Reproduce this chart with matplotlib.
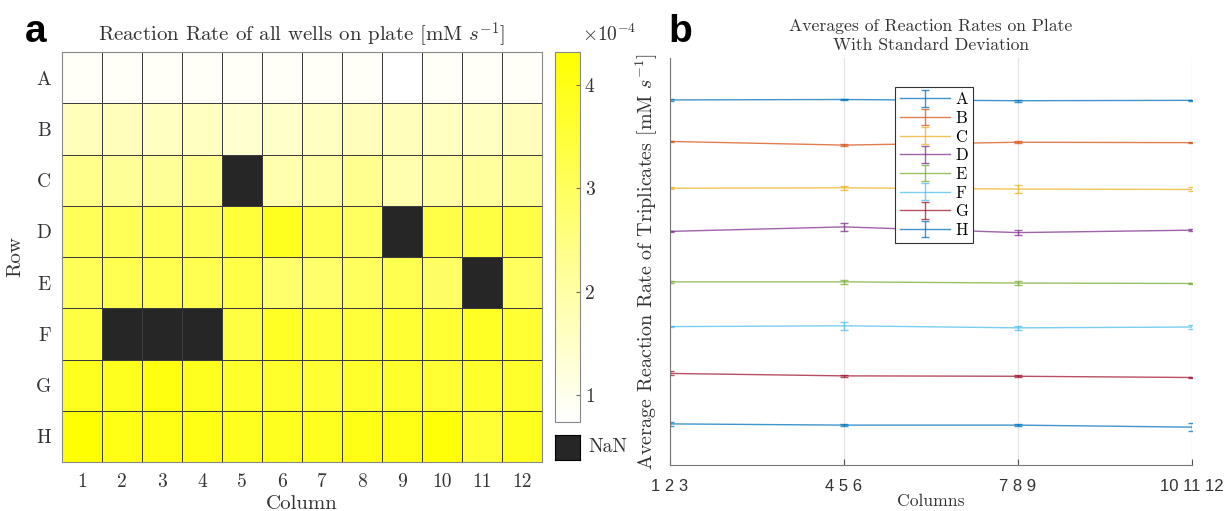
import numpy as np
import matplotlib
matplotlib.use('Agg')
from matplotlib import pyplot as plt
from matplotlib.colors import LinearSegmentedColormap

plt.rcParams['font.family'] = 'serif'
plt.rcParams['font.serif'] = ['cmr10']
plt.rcParams['mathtext.fontset'] = 'cm'
plt.rcParams['axes.unicode_minus'] = False

rows = ['A', 'B', 'C', 'D', 'E', 'F', 'G', 'H']
cols = [1, 2, 3, 4, 5, 6, 7, 8, 9, 10, 11, 12]

# reaction rate per well, in units of 1e-4 mM/s (nan = missing well)
nan = np.nan
rate_A = [0.85, 0.85, 0.84, 0.85, 0.84, 0.85, 0.84, 0.84, 0.74, 0.84, 0.85, 0.84]
rate_B = [1.7, 1.7, 1.6, 1.6, 1.4, 1.5, 1.6, 1.7, 1.7, 1.6, 1.6, 1.7]
rate_C = [2.4, 2.2, 2.2, 2.3, nan, 1.9, 2.0, 2.3, 1.9, 2.0, 2.1, 2.2]
rate_D = [3.1, 3.1, 3.1, 3.1, 3.5, 3.9, 3.2, 3.0, nan, 3.3, 3.4, 3.3]
rate_E = [3.1, 3.2, 3.2, 3.2, 3.3, 2.8, 2.8, 3.0, 3.2, 2.9, nan, 3.0]
rate_F = [3.4, nan, nan, nan, 3.4, 3.8, 3.5, 3.5, 3.6, 3.6, 3.8, 3.6]
rate_G = [3.9, 3.9, 4.1, 3.9, 3.7, 3.7, 3.6, 3.7, 3.7, 3.6, 3.7, 3.7]
rate_H = [4.3, 4.0, 4.0, 4.0, 3.9, 3.9, 3.9, 4.0, 4.0, 4.2, 3.6, 3.9]
clim = (0.74, 4.32)

# averages of triplicates (arbitrary scale) and std devs
avg_x = [2, 5, 8, 11]
avg_tick_labels = ['1 2 3', '4 5 6', '7 8 9', '10 11 12']
avg_A = [8.97, 8.98, 8.95, 8.96]
avg_B = [7.95, 7.86, 7.93, 7.92]
avg_C = [6.80, 6.81, 6.78, 6.77]
avg_D = [5.74, 5.85, 5.71, 5.77]
avg_E = [4.50, 4.50, 4.47, 4.46]
avg_F = [3.40, 3.42, 3.37, 3.39]
avg_G = [2.25, 2.19, 2.18, 2.15]
avg_H = [1.01, 0.98, 0.98, 0.93]
std_A = [0.02, 0.02, 0.02, 0.02]
std_B = [0.02, 0.03, 0.03, 0.02]
std_C = [0.03, 0.05, 0.09, 0.05]
std_D = [0.02, 0.10, 0.07, 0.02]
std_E = [0.03, 0.05, 0.05, 0.02]
std_F = [0.02, 0.10, 0.05, 0.04]
std_G = [0.05, 0.03, 0.02, 0.02]
std_H = [0.05, 0.02, 0.02, 0.10]
line_colors = ['#0072BD', '#D95319', '#EDB120', '#7E2F8E',
               '#77AC30', '#4DBEEE', '#A2142F', '#0072BD']

W, H = 1230, 511
fig = plt.figure(figsize=(W / 100, H / 100), dpi=100)


def px_axes(x0, y0, x1, y1):
    return fig.add_axes([x0 / W, 1 - y1 / H, (x1 - x0) / W, (y1 - y0) / H])


# ---- panel a: heatmap ----
grid = np.ma.masked_invalid(np.array([rate_A, rate_B, rate_C, rate_D,
                                      rate_E, rate_F, rate_G, rate_H]))
cmap = LinearSegmentedColormap.from_list('wy', ['#ffffff', '#ffff00'])
cmap.set_bad('#262626')

ax = px_axes(62, 52, 542, 462)
mesh = ax.pcolormesh(np.arange(13) + 0.5, np.arange(9) - 0.5, grid, cmap=cmap,
                     vmin=clim[0], vmax=clim[1], edgecolors='#3c3c3c', linewidth=0.6)
ax.set_xlim(0.5, 12.5)
ax.set_ylim(7.5, -0.5)
ax.set_xticks(cols)
ax.set_xticklabels([str(c) for c in cols], fontsize=14, color='#333333')
ax.set_yticks(range(8))
ax.set_yticklabels(rows, fontsize=14, color='#333333')
ax.tick_params(length=0, pad=8)
for s in ax.spines.values():
    s.set_color('#888888')
ax.set_title('Reaction Rate of all wells on plate [mM $s^{-1}$]', fontsize=15,
             color='#333333', pad=8)
ax.set_xlabel('Column', fontsize=15, color='#333333', labelpad=3)
ax.set_ylabel('Row', fontsize=15, color='#333333', labelpad=8)

cax = px_axes(555, 52, 580, 422)
cb = fig.colorbar(mesh, cax=cax)
cb.set_ticks([1, 2, 3, 4])
cb.ax.tick_params(direction='in', length=3, labelsize=14, color='#666666',
                  labelcolor='#333333')
cb.outline.set_edgecolor('#888888')
fig.text(582 / W, 1 - 34 / H, r'$\times 10^{-4}$', fontsize=14, color='#333333',
         va='center', ha='left')

nax = px_axes(555, 435, 580, 460)
nax.set_facecolor('#262626')
nax.set_xticks([])
nax.set_yticks([])
fig.text(588 / W, 1 - 447 / H, 'NaN', fontsize=14, color='#333333', va='center')

fig.text(25 / W, 1 - 32 / H, 'a', fontsize=28, fontweight='bold',
         family='Liberation Sans', va='center')

# ---- panel b: averages with error bars ----
bx = px_axes(670, 58, 1192, 465)
avgs = [avg_A, avg_B, avg_C, avg_D, avg_E, avg_F, avg_G, avg_H]
stds = [std_A, std_B, std_C, std_D, std_E, std_F, std_G, std_H]
for r, a, s, c in zip(rows, avgs, stds, line_colors):
    bx.errorbar(avg_x, a, yerr=s, color=c, lw=1, capsize=3, elinewidth=1,
                alpha=0.75, label=r)
bx.set_xlim(2, 11)
bx.set_ylim(0, 10)
bx.set_xticks(avg_x)
bx.set_xticklabels(avg_tick_labels, family='Liberation Sans', fontsize=12,
                   color='#333333')
bx.set_yticks([])
bx.grid(axis='x', color='#e6e6e6', lw=1)
bx.spines['top'].set_visible(False)
bx.spines['right'].set_visible(False)
bx.spines['left'].set_color('#777777')
bx.spines['bottom'].set_color('#777777')
bx.tick_params(axis='x', direction='in', length=4, color='#555555', pad=10)
bx.set_title('Averages of Reaction Rates on Plate\nWith Standard Deviation',
             fontsize=12.7, color='#333333', pad=6, linespacing=1.3)
bx.set_xlabel('Columns', fontsize=12.7, color='#333333', labelpad=0)
bx.set_ylabel('Average Reaction Rate of Triplicates [mM $s^{-1}$]', fontsize=14.5,
              color='#333333', labelpad=7)
leg = bx.legend(loc='upper left', bbox_to_anchor=(895 / W, 1 - 87 / H),
                bbox_transform=fig.transFigure, fontsize=12, fancybox=False,
                edgecolor='#333333', framealpha=1, handlelength=3.0,
                labelspacing=0.2, borderpad=0.3, handletextpad=0.3,
                borderaxespad=0)
leg.get_frame().set_linewidth(0.8)

fig.text(668 / W, 1 - 32 / H, 'b', fontsize=28, fontweight='bold',
         family='Liberation Sans', va='center')

fig.savefig('out.png', dpi=100)
